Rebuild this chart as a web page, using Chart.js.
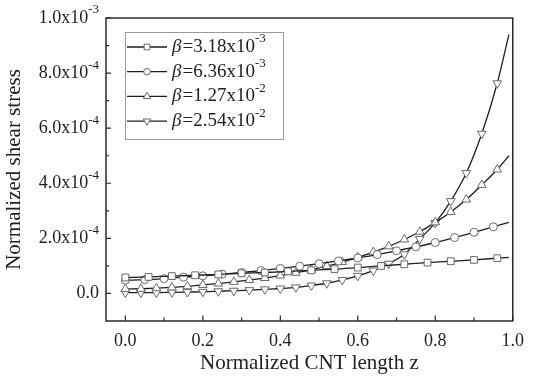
<!DOCTYPE html>
<html>
<head>
<meta charset="utf-8">
<script src="https://cdn.jsdelivr.net/npm/chart.js@4.4.0/dist/chart.umd.min.js"></script>
<style>
  html, body { margin: 0; padding: 0; background: #fff; }
  #wrap { width: 533px; height: 378px; }
</style>
</head>
<body>
<div id="wrap"><canvas id="chart" width="533" height="378"></canvas></div>
<script>
// normalized CNT length z where each curve was sampled (last point = end of line, no marker)
const zSquare = [0, 0.06, 0.12, 0.18, 0.24, 0.30, 0.36, 0.42, 0.48, 0.54, 0.60, 0.66, 0.72, 0.78, 0.84, 0.90, 0.96, 0.99]
const zCircle = [0, 0.05, 0.10, 0.15, 0.20, 0.25, 0.30, 0.35, 0.40, 0.45, 0.50, 0.55, 0.60, 0.65, 0.70, 0.75, 0.80, 0.85, 0.90, 0.95, 0.99]
const zTriangle = [0, 0.04, 0.08, 0.12, 0.16, 0.20, 0.24, 0.28, 0.32, 0.36, 0.40, 0.44, 0.48, 0.52, 0.56, 0.60, 0.64, 0.68, 0.72, 0.76, 0.80, 0.84, 0.88, 0.92, 0.96, 0.99]

// normalized shear stress
const stressB1 = [5.8e-5, 6.0e-5, 6.3e-5, 6.6e-5, 6.9e-5, 7.3e-5, 7.6e-5, 8.0e-5, 8.4e-5, 8.8e-5, 9.4e-5, 1.00e-4, 1.06e-4, 1.12e-4, 1.17e-4, 1.22e-4, 1.28e-4, 1.31e-4]
const stressB2 = [4.8e-5, 5.0e-5, 5.4e-5, 5.9e-5, 6.4e-5, 7.0e-5, 7.6e-5, 8.3e-5, 9.1e-5, 9.9e-5, 1.08e-4, 1.18e-4, 1.29e-4, 1.41e-4, 1.55e-4, 1.69e-4, 1.85e-4, 2.03e-4, 2.22e-4, 2.42e-4, 2.58e-4]
const stressB3 = [1.6e-5, 1.7e-5, 1.9e-5, 2.2e-5, 2.6e-5, 3.1e-5, 3.6e-5, 4.2e-5, 4.9e-5, 5.6e-5, 6.5e-5, 7.5e-5, 8.6e-5, 9.9e-5, 1.14e-4, 1.31e-4, 1.50e-4, 1.71e-4, 1.96e-4, 2.24e-4, 2.58e-4, 2.96e-4, 3.41e-4, 3.94e-4, 4.50e-4, 5.00e-4]
const stressB4 = [0.3e-5, 0.3e-5, 0.3e-5, 0.4e-5, 0.5e-5, 0.6e-5, 0.8e-5, 1.0e-5, 1.2e-5, 1.5e-5, 1.8e-5, 2.2e-5, 2.9e-5, 3.7e-5, 4.9e-5, 6.4e-5, 8.3e-5, 10.8e-5, 14.2e-5, 19.8e-5, 25.6e-5, 33.5e-5, 43.7e-5, 58.0e-5, 76.3e-5, 94.0e-5]

// legend: beta mantissa and exponent
const betaBase = ['3.18', '6.36', '1.27', '2.54']
const betaExp = ['-3', '-3', '-2', '-2']

// axis ticks
const xTicks = [0, 0.2, 0.4, 0.6, 0.8, 1.0]
const xMinorTicks = [0.1, 0.3, 0.5, 0.7, 0.9]
const yTicks = [0, 2e-4, 4e-4, 6e-4, 8e-4, 1e-3]
const yMinorTicks = [1e-4, 3e-4, 5e-4, 7e-4, 9e-4]
const yTickBase = ['0.0', '2.0x10', '4.0x10', '6.0x10', '8.0x10', '1.0x10']
const yTickExp = ['', '-4', '-4', '-4', '-4', '-3']

const SERIF = '"Liberation Serif", "Times New Roman", serif'
const INK = '#1e1e1e'

function toPoints(xs, ys) {
  return xs.map((x, i) => ({ x: x, y: ys[i] }))
}

// markers on every sample but the line end
function markerRadii(xs, r) {
  return xs.map((x, i) => i === xs.length - 1 ? 0 : r)
}

function makeDataset(xs, ys, style, radius, rotation) {
  return {
    data: toPoints(xs, ys),
    borderColor: INK,
    borderWidth: 1.3,
    pointStyle: style,
    pointRotation: rotation || 0,
    pointRadius: markerRadii(xs, radius),
    pointBorderColor: '#6a6a6a',
    pointBackgroundColor: '#fff',
    pointBorderWidth: 1,
    cubicInterpolationMode: 'monotone',
    fill: false
  }
}

const datasets = [
  makeDataset(zSquare, stressB1, 'rect', 4.8),
  makeDataset(zCircle, stressB2, 'circle', 4),
  makeDataset(zTriangle, stressB3, 'triangle', 5),
  makeDataset(zTriangle, stressB4, 'triangle', 5, 180)
]

// frame, inward ticks, y labels with superscripts and the boxed legend
const decorations = {
  id: 'decorations',
  afterDraw(chart) {
    const ctx = chart.ctx
    const a = chart.chartArea
    const xs = chart.scales.x, ys = chart.scales.y
    ctx.save()

    ctx.strokeStyle = '#2a2a2a'
    ctx.lineWidth = 1.5
    ctx.strokeRect(a.left, a.top, a.right - a.left, a.bottom - a.top)

    ctx.lineWidth = 1.2
    ctx.beginPath()
    xTicks.forEach(v => { const p = xs.getPixelForValue(v); ctx.moveTo(p, a.bottom); ctx.lineTo(p, a.bottom - 5.5) })
    xMinorTicks.forEach(v => { const p = xs.getPixelForValue(v); ctx.moveTo(p, a.bottom); ctx.lineTo(p, a.bottom - 3.5) })
    yTicks.forEach(v => { const p = ys.getPixelForValue(v); ctx.moveTo(a.left, p); ctx.lineTo(a.left + 5, p) })
    yMinorTicks.forEach(v => { const p = ys.getPixelForValue(v); ctx.moveTo(a.left, p); ctx.lineTo(a.left + 3, p) })
    ctx.stroke()

    // y tick labels
    ctx.fillStyle = INK
    ctx.textBaseline = 'middle'
    yTicks.forEach((v, i) => {
      const p = ys.getPixelForValue(v)
      ctx.font = '13px ' + SERIF
      const supW = yTickExp[i] ? ctx.measureText(yTickExp[i]).width : 0
      const right = 99 - supW
      if (yTickExp[i]) {
        ctx.textAlign = 'left'
        ctx.fillText(yTickExp[i], right, p - 8)
      }
      ctx.font = '18px ' + SERIF
      ctx.textAlign = 'right'
      ctx.fillText(yTickBase[i], right, p)
    })

    // legend
    const bx = 125, by = 32, bw = 158, bh = 107
    ctx.fillStyle = '#fff'
    ctx.fillRect(bx, by, bw, bh)
    ctx.strokeStyle = '#9a9a9a'
    ctx.lineWidth = 1
    ctx.strokeRect(bx + 0.5, by + 0.5, bw, bh)
    chart.data.datasets.forEach((ds, i) => {
      const cy = 47 + i * 24.7
      ctx.strokeStyle = INK
      ctx.lineWidth = 1.3
      ctx.beginPath()
      ctx.moveTo(127, cy)
      ctx.lineTo(167, cy)
      ctx.stroke()
      ctx.strokeStyle = '#6a6a6a'
      ctx.fillStyle = '#fff'
      ctx.lineWidth = 1
      const r = ds.pointStyle === 'circle' ? 3.3 : ds.pointStyle === 'rect' ? 4 : 4.2
      Chart.helpers.drawPoint(ctx, { pointStyle: ds.pointStyle, rotation: ds.pointRotation, radius: r, borderWidth: 1 }, 147, cy)

      ctx.fillStyle = INK
      ctx.textAlign = 'left'
      let x = 172
      ctx.font = 'italic 19px ' + SERIF
      ctx.fillText('\u03b2', x, cy)
      x += ctx.measureText('\u03b2').width + 1
      ctx.font = '19px ' + SERIF
      const txt = '=' + betaBase[i] + 'x10'
      ctx.fillText(txt, x, cy)
      x += ctx.measureText(txt).width
      ctx.font = '13px ' + SERIF
      ctx.fillText(betaExp[i], x, cy - 8)
    })
    ctx.restore()
  }
}

new Chart(document.getElementById('chart'), {
  type: 'line',
  data: { datasets: datasets },
  options: {
    responsive: false,
    animation: false,
    layout: { padding: { top: 18, right: 13, left: 0, bottom: 0 } },
    plugins: { legend: { display: false }, tooltip: { enabled: false } },
    scales: {
      x: {
        type: 'linear',
        min: -0.05,
        max: 1.0,
        grid: { display: false, drawTicks: false },
        border: { display: false },
        afterBuildTicks: scale => { scale.ticks = xTicks.map(v => ({ value: v })) },
        afterFit: scale => { scale.height = 57 },
        ticks: {
          padding: 9,
          color: INK,
          font: { family: SERIF, size: 18 },
          callback: v => v.toFixed(1)
        },
        title: {
          display: true,
          text: 'Normalized CNT length z',
          color: INK,
          font: { family: SERIF, size: 21 },
          padding: { top: 0, bottom: 2 }
        }
      },
      y: {
        type: 'linear',
        min: -1e-4,
        max: 1e-3,
        grid: { display: false, drawTicks: false },
        border: { display: false },
        afterBuildTicks: scale => { scale.ticks = yTicks.map(v => ({ value: v })) },
        afterFit: scale => { scale.width = 106 },
        ticks: { display: false },
        title: {
          display: true,
          text: 'Normalized shear stress',
          color: INK,
          font: { family: SERIF, size: 21 },
          padding: { top: 2, bottom: 0 }
        }
      }
    }
  },
  plugins: [decorations]
})
</script>
</body>
</html>
